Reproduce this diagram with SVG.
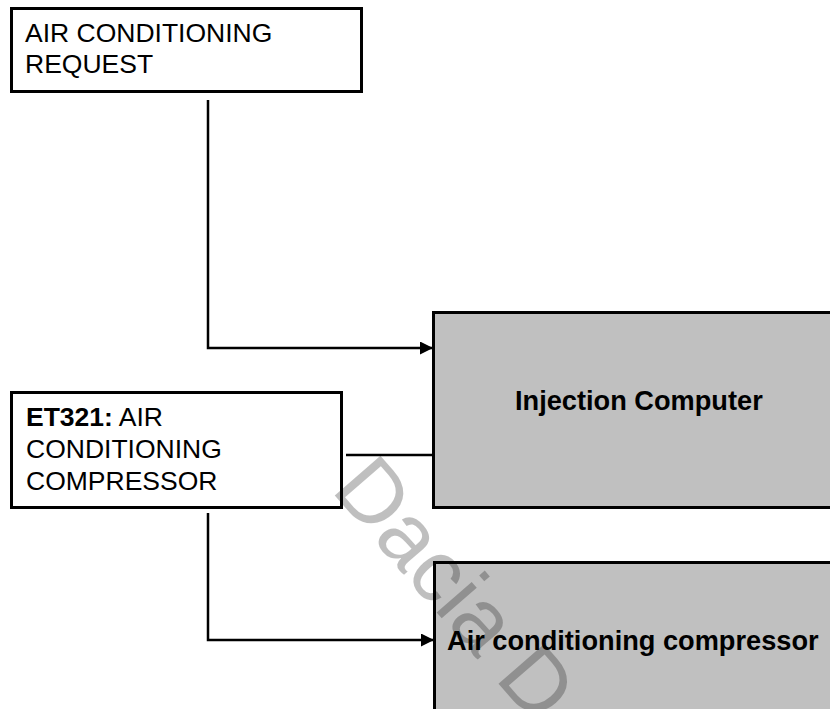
<svg xmlns="http://www.w3.org/2000/svg" width="830" height="709" viewBox="0 0 830 709">
<style>
.box{fill:#ffffff;stroke:#000000;stroke-width:3}
.ecu{fill:#c0c0c0;stroke:#000000;stroke-width:3}
.t{font-family:"Liberation Sans",Arial,sans-serif;font-size:26.5px;fill:#000000}
.b{font-weight:bold}
.bb{font-size:27.2px}
.wire{fill:none;stroke:#000000;stroke-width:2.5}
.wm{font-family:"Liberation Sans",Arial,sans-serif;font-size:88px;fill:#000000;fill-opacity:0.25}
</style>
<defs>
<marker id="arr" viewBox="0 0 13 13" refX="13" refY="6.5" markerWidth="13" markerHeight="13" markerUnits="userSpaceOnUse" orient="auto">
<path d="M0,0 L13,6.5 L0,13 Z" fill="#000000"/>
</marker>
</defs>
<g id="node-request">
<rect class="box" x="11.5" y="8.5" width="350" height="83"/>
<text class="t" x="25" y="42">AIR CONDITIONING</text>
<text class="t" x="25" y="73">REQUEST</text>
</g>
<g id="node-et321">
<rect class="box" x="11.5" y="392.5" width="330" height="115"/>
<text class="t" x="26" y="426"><tspan class="b">ET321:</tspan> AIR</text>
<text class="t" x="26" y="458">CONDITIONING</text>
<text class="t" x="26" y="490">COMPRESSOR</text>
</g>
<g id="node-injection">
<rect class="ecu" x="433.5" y="312.5" width="420" height="195"/>
<text class="t b bb" x="515" y="410">Injection Computer</text>
</g>
<g id="node-compressor">
<rect class="ecu" x="434.5" y="562.5" width="420" height="200"/>
<text class="t b bb" x="447" y="650">Air conditioning compressor</text>
</g>
<g id="connectors">
<path class="wire" d="M208,100 V348 H433" marker-end="url(#arr)"/>
<path class="wire" d="M346,455 H433"/>
<path class="wire" d="M208,513 V640 H434" marker-end="url(#arr)"/>
</g>
<text class="wm" transform="translate(330,490) rotate(49)">Dacia D</text>
</svg>
